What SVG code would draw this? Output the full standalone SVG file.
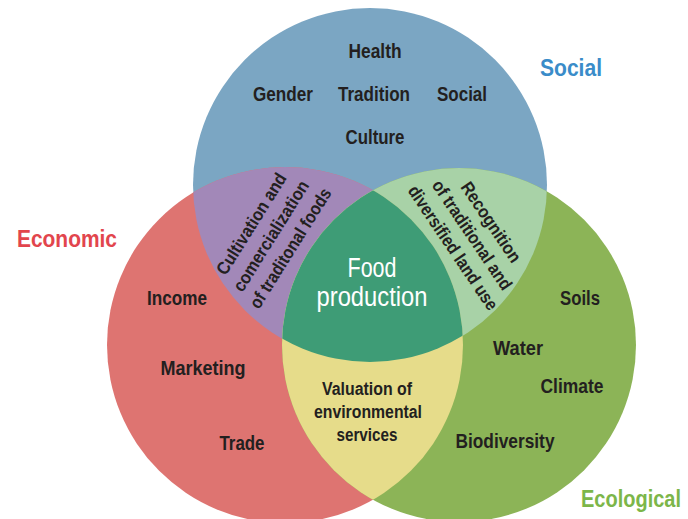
<svg xmlns="http://www.w3.org/2000/svg" width="688" height="519" viewBox="0 0 688 519">
<style>
.t{font-family:"Liberation Sans",Arial,sans-serif;font-weight:bold;fill:#231f20;text-anchor:middle;font-size:20px}
.r{font-size:18px}
.title{font-size:24px}
.food{fill:#ffffff;font-weight:normal;font-size:27px}
</style>
<defs>
<clipPath id="cT"><circle cx="370" cy="185" r="177"/></clipPath>
<clipPath id="cL"><circle cx="285" cy="345" r="178"/></clipPath>
<clipPath id="cR"><circle cx="459" cy="345" r="177"/></clipPath>
</defs>
<rect width="688" height="519" fill="#ffffff"/>
<g id="circles">
<circle id="social-circle" cx="370" cy="185" r="177" fill="#7ba6c3"/>
<circle id="economic-circle" cx="285" cy="345" r="178" fill="#de7471"/>
<circle id="ecological-circle" cx="459" cy="345" r="177" fill="#8cb457"/>
<g id="social-economic" clip-path="url(#cT)"><circle cx="285" cy="345" r="178" fill="#a288b8"/></g>
<g id="social-ecological" clip-path="url(#cT)"><circle cx="459" cy="345" r="177" fill="#a8d2a7"/></g>
<g id="economic-ecological" clip-path="url(#cL)"><circle cx="459" cy="345" r="177" fill="#e6dc8a"/></g>
<g clip-path="url(#cL)"><g clip-path="url(#cR)"><circle id="center" cx="370" cy="185" r="177" fill="#3e9c76"/></g></g>
</g>
<g id="connectors"/>
<g id="social-labels">
<text class="t title" x="571" y="76" style="fill:#3a8cc9" textLength="62" lengthAdjust="spacingAndGlyphs">Social</text>
<text class="t" x="375" y="58" textLength="53" lengthAdjust="spacingAndGlyphs">Health</text>
<text class="t" x="283" y="101" textLength="60" lengthAdjust="spacingAndGlyphs">Gender</text>
<text class="t" x="374" y="101" textLength="72" lengthAdjust="spacingAndGlyphs">Tradition</text>
<text class="t" x="462" y="101" textLength="50" lengthAdjust="spacingAndGlyphs">Social</text>
<text class="t" x="375" y="144" textLength="59" lengthAdjust="spacingAndGlyphs">Culture</text>
</g>
<g id="economic-labels">
<text class="t title" x="67" y="247" style="fill:#e2454d" textLength="100" lengthAdjust="spacingAndGlyphs">Economic</text>
<text class="t" x="177" y="305" textLength="60" lengthAdjust="spacingAndGlyphs">Income</text>
<text class="t" x="203" y="375" textLength="85" lengthAdjust="spacingAndGlyphs">Marketing</text>
<text class="t" x="242" y="450" textLength="45" lengthAdjust="spacingAndGlyphs">Trade</text>
</g>
<g id="ecological-labels">
<text class="t title" x="631" y="507" style="fill:#7cb649" textLength="100" lengthAdjust="spacingAndGlyphs">Ecological</text>
<text class="t" x="580" y="305" textLength="40" lengthAdjust="spacingAndGlyphs">Soils</text>
<text class="t" x="518" y="355" textLength="50" lengthAdjust="spacingAndGlyphs">Water</text>
<text class="t" x="572" y="393" textLength="63" lengthAdjust="spacingAndGlyphs">Climate</text>
<text class="t" x="505" y="448" textLength="99" lengthAdjust="spacingAndGlyphs">Biodiversity</text>
</g>
<g id="cultivation" transform="translate(271,236) rotate(-58)">
<text class="t r" x="0" y="-17" textLength="116" lengthAdjust="spacingAndGlyphs">Cultivation and</text>
<text class="t r" x="0" y="6" textLength="127" lengthAdjust="spacingAndGlyphs">comercialization</text>
<text class="t r" x="0" y="29" textLength="138" lengthAdjust="spacingAndGlyphs">of traditonal foods</text>
</g>
<g id="recognition" transform="translate(472,235) rotate(56)">
<text class="t r" x="0" y="-17" textLength="93" lengthAdjust="spacingAndGlyphs">Recognition</text>
<text class="t r" x="0" y="6" textLength="128" lengthAdjust="spacingAndGlyphs">of traditional and</text>
<text class="t r" x="0" y="29" textLength="146" lengthAdjust="spacingAndGlyphs">diversified land use</text>
</g>
<g id="valuation">
<text class="t r" x="367" y="395" textLength="90" lengthAdjust="spacingAndGlyphs">Valuation of</text>
<text class="t r" x="368" y="418" textLength="108" lengthAdjust="spacingAndGlyphs">environmental</text>
<text class="t r" x="367" y="441" textLength="61" lengthAdjust="spacingAndGlyphs">services</text>
</g>
<g id="food-production">
<text class="t food" x="372" y="277" textLength="49" lengthAdjust="spacingAndGlyphs">Food</text>
<text class="t food" x="372" y="306" textLength="111" lengthAdjust="spacingAndGlyphs">production</text>
</g>
</svg>
